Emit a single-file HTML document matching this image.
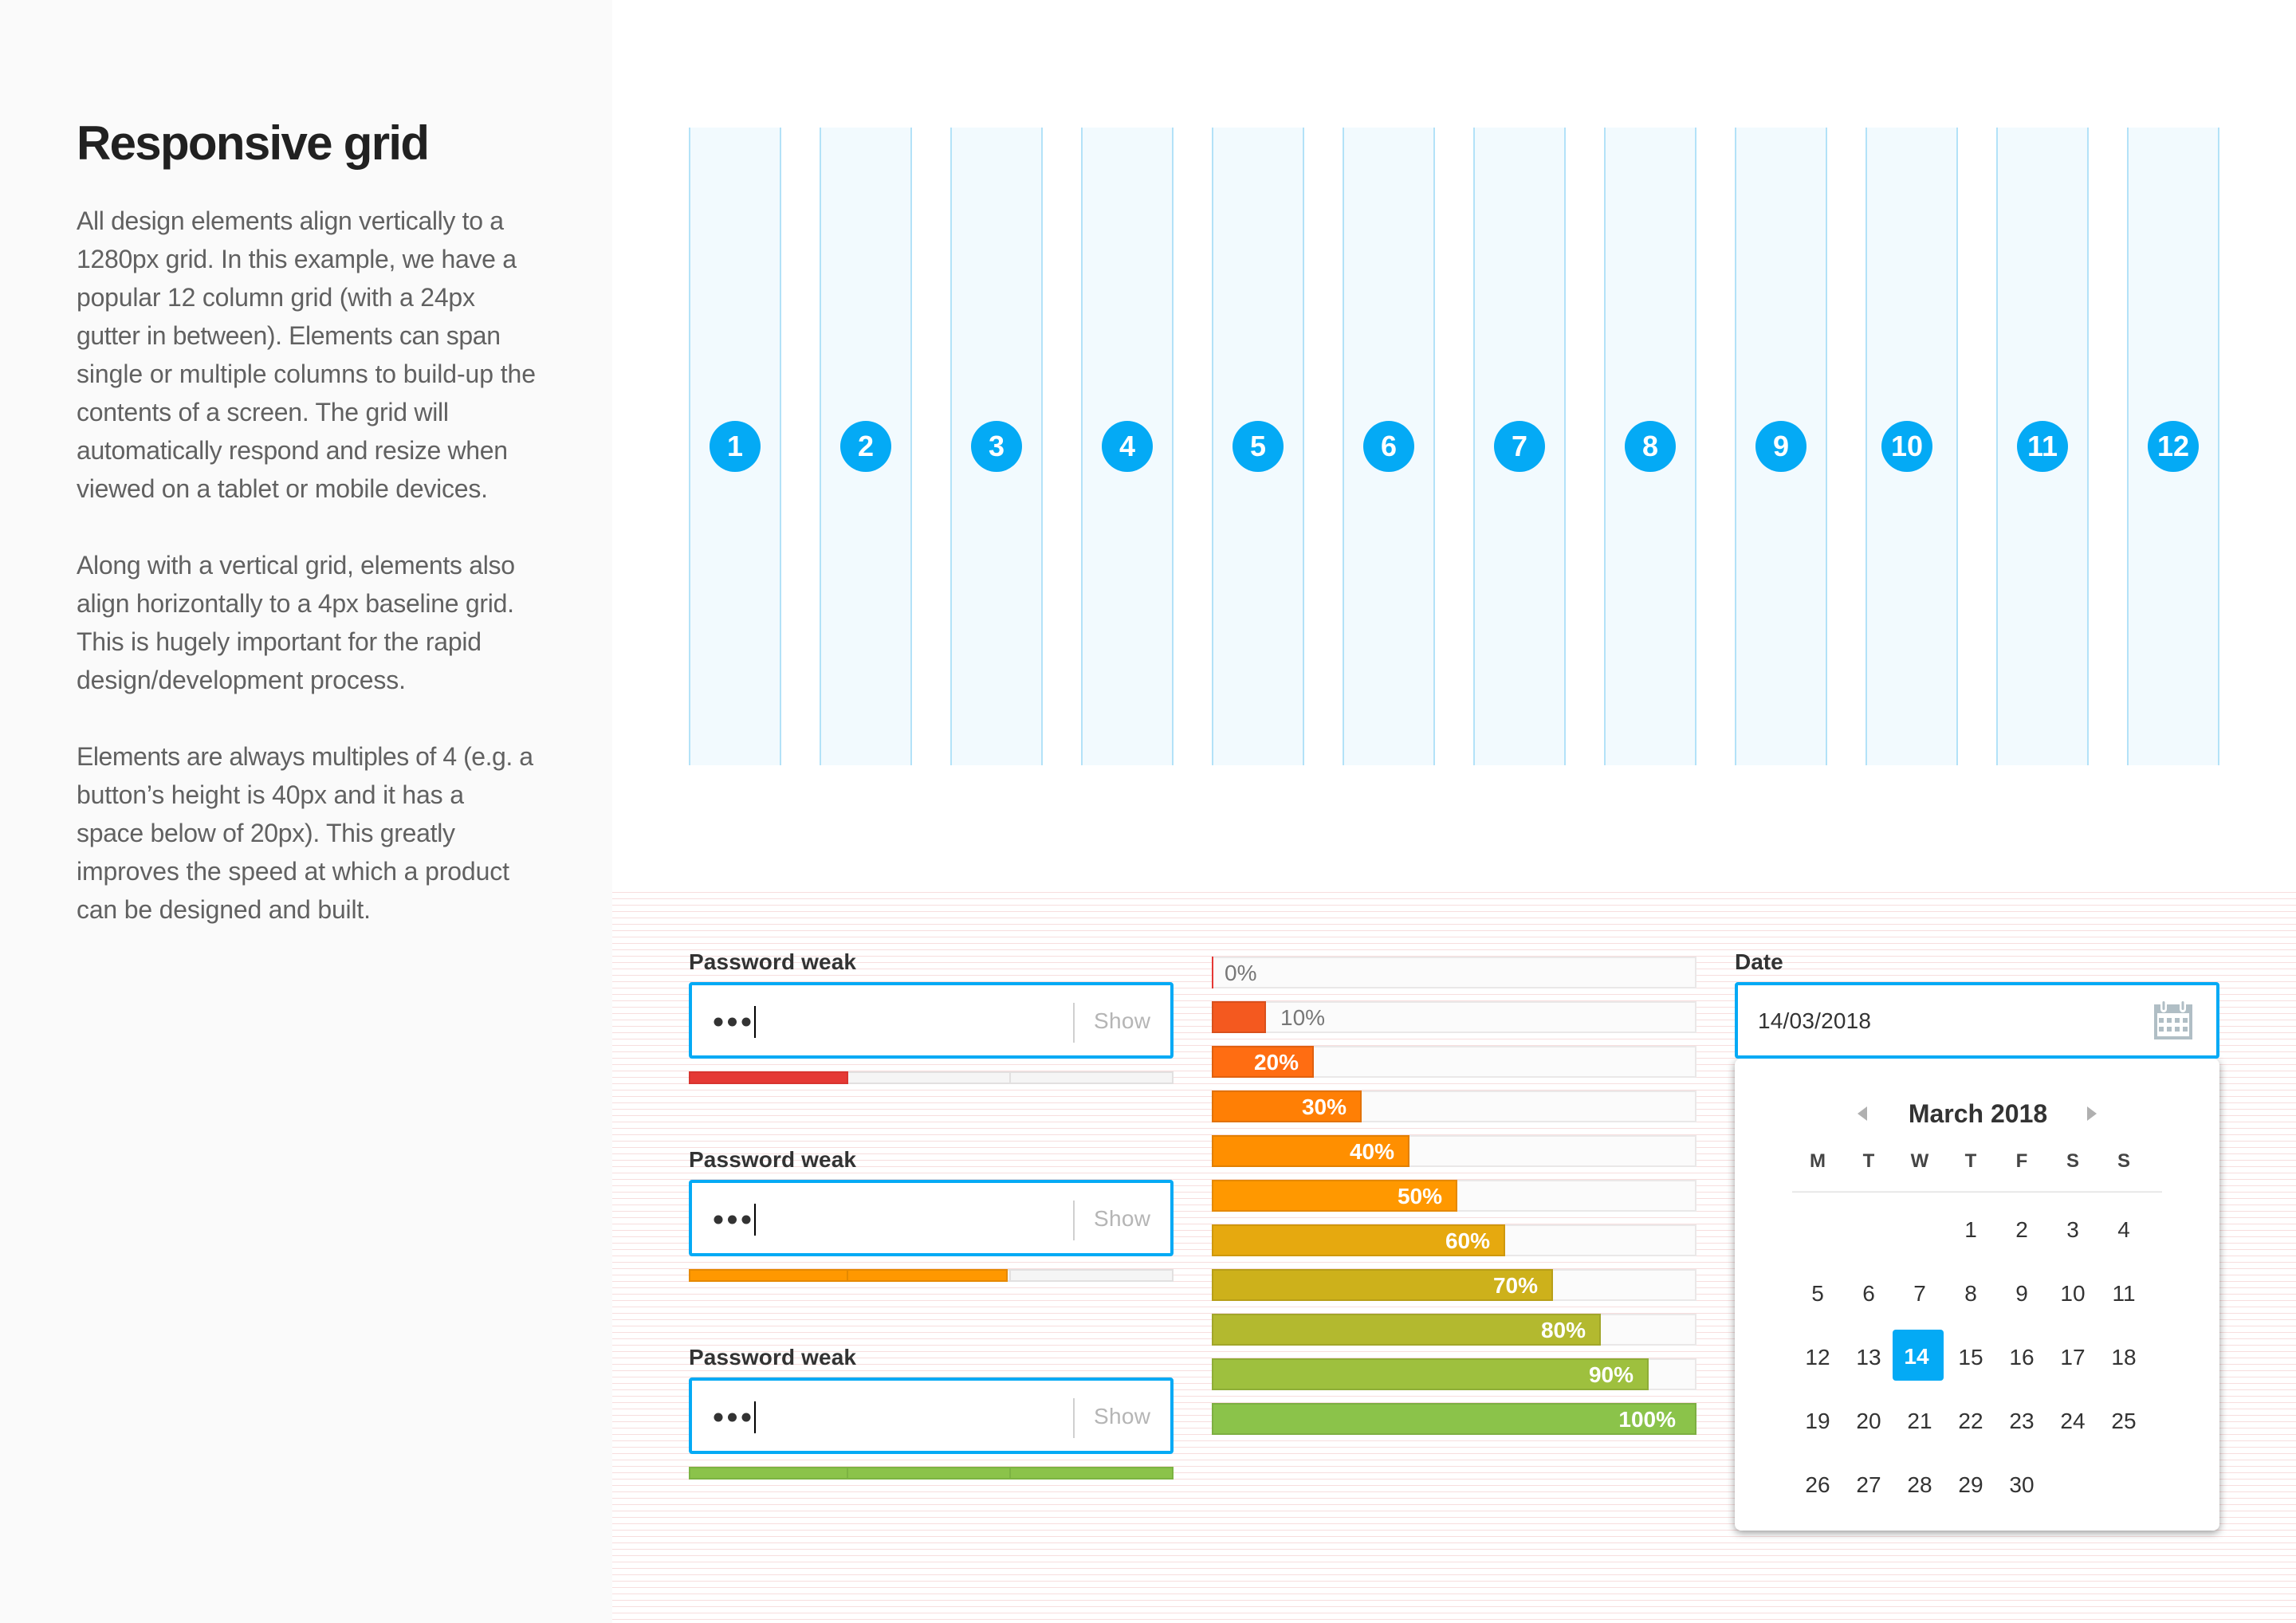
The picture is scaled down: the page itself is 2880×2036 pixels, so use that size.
<!DOCTYPE html>
<html lang="en">
<head>
<meta charset="utf-8">
<title>Responsive grid</title>
<style>
  html, body { margin: 0; padding: 0; background: #fff; width: 2880px; height: 2036px; overflow: hidden; }
  svg { display: block; }
  text { font-family: "Liberation Sans", Arial, sans-serif; }
  .h1 { font-size: 60px; font-weight: 700; fill: #212121; }
  .p { font-size: 32px; fill: #616161; }
  .num { font-size: 36px; font-weight: 700; fill: #fff; text-anchor: middle; }
  .lbl { font-size: 28px; font-weight: 700; fill: #333; }
  .show { font-size: 28px; fill: #b5b5b5; }
  .val { font-size: 28px; fill: #333; }
  .pct-in { font-size: 28px; font-weight: 700; fill: #fff; text-anchor: end; }
  .pct-out { font-size: 28px; fill: #777; }
  .month { font-size: 32px; font-weight: 700; fill: #333; text-anchor: middle; }
  .wd { font-size: 24px; font-weight: 700; fill: #444; text-anchor: middle; }
  .d { font-size: 28px; fill: #333; text-anchor: middle; }
  .d-sel { font-size: 28px; font-weight: 700; fill: #fff; text-anchor: middle; }
  .col-bg { fill: #f2fafe; }
  .col-line { fill: #b3e2f8; }
  .badge { fill: #04aaf5; }
  .inp { fill: #fff; stroke: #04aaf5; stroke-width: 4; }
  .cal { fill: #b0bec5; }
</style>
</head>
<body>
<svg xmlns="http://www.w3.org/2000/svg" width="2880" height="2036" viewBox="0 0 2880 2036">
  <defs>
    <pattern id="baseline" patternUnits="userSpaceOnUse" x="0" y="1119" width="16" height="8">
      <rect x="0" y="0" width="16" height="1" fill="#f7dede"/>
    </pattern>
  </defs>

  <rect x="0" y="0" width="768" height="2036" fill="#fafafa"/>
  <rect x="768" y="1119" width="2112" height="917" fill="url(#baseline)"/>

  <g>
    <text class="h1" x="96" y="200" textLength="443" lengthAdjust="spacing">Responsive grid</text>
    <text class="p" x="96" y="288" textLength="536" lengthAdjust="spacing">All design elements align vertically to a</text>
    <text class="p" x="96" y="336" textLength="552" lengthAdjust="spacing">1280px grid. In this example, we have a</text>
    <text class="p" x="96" y="384" textLength="500" lengthAdjust="spacing">popular 12 column grid (with a 24px</text>
    <text class="p" x="96" y="432" textLength="532" lengthAdjust="spacing">gutter in between). Elements can span</text>
    <text class="p" x="96" y="480" textLength="576" lengthAdjust="spacing">single or multiple columns to build-up the</text>
    <text class="p" x="96" y="528" textLength="467" lengthAdjust="spacing">contents of a screen. The grid will</text>
    <text class="p" x="96" y="576" textLength="541" lengthAdjust="spacing">automatically respond and resize when</text>
    <text class="p" x="96" y="624" textLength="516" lengthAdjust="spacing">viewed on a tablet or mobile devices.</text>
    <text class="p" x="96" y="720" textLength="550" lengthAdjust="spacing">Along with a vertical grid, elements also</text>
    <text class="p" x="96" y="768" textLength="549" lengthAdjust="spacing">align horizontally to a 4px baseline grid.</text>
    <text class="p" x="96" y="816" textLength="508" lengthAdjust="spacing">This is hugely important for the rapid</text>
    <text class="p" x="96" y="864" textLength="413" lengthAdjust="spacing">design/development process.</text>
    <text class="p" x="96" y="960" textLength="573" lengthAdjust="spacing">Elements are always multiples of 4 (e.g. a</text>
    <text class="p" x="96" y="1008" textLength="486" lengthAdjust="spacing">button’s height is 40px and it has a</text>
    <text class="p" x="96" y="1056" textLength="475" lengthAdjust="spacing">space below of 20px). This greatly</text>
    <text class="p" x="96" y="1104" textLength="543" lengthAdjust="spacing">improves the speed at which a product</text>
    <text class="p" x="96" y="1152" textLength="369" lengthAdjust="spacing">can be designed and built.</text>
  </g>

  <g>
    <g transform="translate(864,0)"><rect class="col-bg" y="160" width="116" height="800"/><rect class="col-line" y="160" width="2" height="800"/><rect class="col-line" x="114" y="160" width="2" height="800"/><circle class="badge" cx="58" cy="560" r="32"/><text class="num" x="58" y="572">1</text></g>
    <g transform="translate(1028,0)"><rect class="col-bg" y="160" width="116" height="800"/><rect class="col-line" y="160" width="2" height="800"/><rect class="col-line" x="114" y="160" width="2" height="800"/><circle class="badge" cx="58" cy="560" r="32"/><text class="num" x="58" y="572">2</text></g>
    <g transform="translate(1192,0)"><rect class="col-bg" y="160" width="116" height="800"/><rect class="col-line" y="160" width="2" height="800"/><rect class="col-line" x="114" y="160" width="2" height="800"/><circle class="badge" cx="58" cy="560" r="32"/><text class="num" x="58" y="572">3</text></g>
    <g transform="translate(1356,0)"><rect class="col-bg" y="160" width="116" height="800"/><rect class="col-line" y="160" width="2" height="800"/><rect class="col-line" x="114" y="160" width="2" height="800"/><circle class="badge" cx="58" cy="560" r="32"/><text class="num" x="58" y="572">4</text></g>
    <g transform="translate(1520,0)"><rect class="col-bg" y="160" width="116" height="800"/><rect class="col-line" y="160" width="2" height="800"/><rect class="col-line" x="114" y="160" width="2" height="800"/><circle class="badge" cx="58" cy="560" r="32"/><text class="num" x="58" y="572">5</text></g>
    <g transform="translate(1684,0)"><rect class="col-bg" y="160" width="116" height="800"/><rect class="col-line" y="160" width="2" height="800"/><rect class="col-line" x="114" y="160" width="2" height="800"/><circle class="badge" cx="58" cy="560" r="32"/><text class="num" x="58" y="572">6</text></g>
    <g transform="translate(1848,0)"><rect class="col-bg" y="160" width="116" height="800"/><rect class="col-line" y="160" width="2" height="800"/><rect class="col-line" x="114" y="160" width="2" height="800"/><circle class="badge" cx="58" cy="560" r="32"/><text class="num" x="58" y="572">7</text></g>
    <g transform="translate(2012,0)"><rect class="col-bg" y="160" width="116" height="800"/><rect class="col-line" y="160" width="2" height="800"/><rect class="col-line" x="114" y="160" width="2" height="800"/><circle class="badge" cx="58" cy="560" r="32"/><text class="num" x="58" y="572">8</text></g>
    <g transform="translate(2176,0)"><rect class="col-bg" y="160" width="116" height="800"/><rect class="col-line" y="160" width="2" height="800"/><rect class="col-line" x="114" y="160" width="2" height="800"/><circle class="badge" cx="58" cy="560" r="32"/><text class="num" x="58" y="572">9</text></g>
    <g transform="translate(2340,0)"><rect class="col-bg" y="160" width="116" height="800"/><rect class="col-line" y="160" width="2" height="800"/><rect class="col-line" x="114" y="160" width="2" height="800"/><circle class="badge" cx="52" cy="560" r="32"/><text class="num" x="52" y="572">10</text></g>
    <g transform="translate(2504,0)"><rect class="col-bg" y="160" width="116" height="800"/><rect class="col-line" y="160" width="2" height="800"/><rect class="col-line" x="114" y="160" width="2" height="800"/><circle class="badge" cx="58" cy="560" r="32"/><text class="num" x="58" y="572">11</text></g>
    <g transform="translate(2668,0)"><rect class="col-bg" y="160" width="116" height="800"/><rect class="col-line" y="160" width="2" height="800"/><rect class="col-line" x="114" y="160" width="2" height="800"/><circle class="badge" cx="58" cy="560" r="32"/><text class="num" x="58" y="572">12</text></g>
  </g>

  <g>
    <text class="lbl" x="864" y="1216" textLength="210" lengthAdjust="spacing">Password weak</text>
    <rect class="inp" x="866" y="1234" width="604" height="92" rx="2"/>
    <circle cx="901" cy="1282" r="5.5" fill="#333"/><circle cx="918.5" cy="1282" r="5.5" fill="#333"/><circle cx="936" cy="1282" r="5.5" fill="#333"/>
    <rect x="946" y="1262" width="2" height="40" fill="#000"/>
    <rect x="1346" y="1258" width="2" height="50" fill="#d0d0d0"/>
    <text class="show" x="1372" y="1290" textLength="71" lengthAdjust="spacing">Show</text>
  </g>
  <g>
    <text class="lbl" x="864" y="1464" textLength="210" lengthAdjust="spacing">Password weak</text>
    <rect class="inp" x="866" y="1482" width="604" height="92" rx="2"/>
    <circle cx="901" cy="1530" r="5.5" fill="#333"/><circle cx="918.5" cy="1530" r="5.5" fill="#333"/><circle cx="936" cy="1530" r="5.5" fill="#333"/>
    <rect x="946" y="1510" width="2" height="40" fill="#000"/>
    <rect x="1346" y="1506" width="2" height="50" fill="#d0d0d0"/>
    <text class="show" x="1372" y="1538" textLength="71" lengthAdjust="spacing">Show</text>
  </g>
  <g>
    <text class="lbl" x="864" y="1712" textLength="210" lengthAdjust="spacing">Password weak</text>
    <rect class="inp" x="866" y="1730" width="604" height="92" rx="2"/>
    <circle cx="901" cy="1778" r="5.5" fill="#333"/><circle cx="918.5" cy="1778" r="5.5" fill="#333"/><circle cx="936" cy="1778" r="5.5" fill="#333"/>
    <rect x="946" y="1758" width="2" height="40" fill="#000"/>
    <rect x="1346" y="1754" width="2" height="50" fill="#d0d0d0"/>
    <text class="show" x="1372" y="1786" textLength="71" lengthAdjust="spacing">Show</text>
  </g>

  <g id="meters"></g>
  <g id="progress"></g>

  <g>
    <text class="lbl" x="2176" y="1216">Date</text>
    <rect x="2176" y="1328" width="608" height="592" rx="8" fill="#fff" style="filter: drop-shadow(0 3px 5px rgba(0,0,0,.4));"/>
    <rect class="inp" x="2178" y="1234" width="604" height="92" rx="2"/>
    <text class="val" x="2205" y="1290" textLength="142" lengthAdjust="spacing">14/03/2018</text>
    <g>
      <rect class="cal" x="2702" y="1260" width="48" height="44"/>
      <rect x="2706" y="1271" width="40" height="29" fill="#fff"/>
      <rect x="2710" y="1255" width="8" height="15" rx="4" fill="#fff"/><rect class="cal" x="2712.5" y="1256" width="3" height="11" rx="1.5"/>
      <rect x="2734" y="1255" width="8" height="15" rx="4" fill="#fff"/><rect class="cal" x="2736.5" y="1256" width="3" height="11" rx="1.5"/>
      <rect class="cal" x="2708" y="1277" width="6" height="6"/><rect class="cal" x="2718" y="1277" width="6" height="6"/><rect class="cal" x="2728" y="1277" width="6" height="6"/><rect class="cal" x="2738" y="1277" width="6" height="6"/>
      <rect class="cal" x="2708" y="1288" width="6" height="6"/><rect class="cal" x="2718" y="1288" width="6" height="6"/><rect class="cal" x="2728" y="1288" width="6" height="6"/><rect class="cal" x="2738" y="1288" width="6" height="6"/>
    </g>
    <polygon points="2342,1388 2342,1406 2330,1397" fill="#b0b0b0"/>
    <polygon points="2618,1388 2618,1406 2630,1397" fill="#b0b0b0"/>
    <text class="month" x="2481" y="1408">March 2018</text>
    <g>
      <text class="wd" x="2280" y="1464">M</text><text class="wd" x="2344" y="1464">T</text><text class="wd" x="2408" y="1464">W</text><text class="wd" x="2472" y="1464">T</text><text class="wd" x="2536" y="1464">F</text><text class="wd" x="2600" y="1464">S</text><text class="wd" x="2664" y="1464">S</text>
    </g>
    <rect x="2248" y="1494.5" width="464" height="1.5" fill="#e2e2e2"/>
    <rect x="2374" y="1668" width="64" height="64" rx="4" fill="#04aaf5"/>
    <g>
      <text class="d" x="2472" y="1552">1</text><text class="d" x="2536" y="1552">2</text><text class="d" x="2600" y="1552">3</text><text class="d" x="2664" y="1552">4</text>
      <text class="d" x="2280" y="1632">5</text><text class="d" x="2344" y="1632">6</text><text class="d" x="2408" y="1632">7</text><text class="d" x="2472" y="1632">8</text><text class="d" x="2536" y="1632">9</text><text class="d" x="2600" y="1632">10</text><text class="d" x="2664" y="1632">11</text>
      <text class="d" x="2280" y="1712">12</text><text class="d" x="2344" y="1712">13</text><text class="d-sel" x="2404" y="1711">14</text><text class="d" x="2472" y="1712">15</text><text class="d" x="2536" y="1712">16</text><text class="d" x="2600" y="1712">17</text><text class="d" x="2664" y="1712">18</text>
      <text class="d" x="2280" y="1792">19</text><text class="d" x="2344" y="1792">20</text><text class="d" x="2408" y="1792">21</text><text class="d" x="2472" y="1792">22</text><text class="d" x="2536" y="1792">23</text><text class="d" x="2600" y="1792">24</text><text class="d" x="2664" y="1792">25</text>
      <text class="d" x="2280" y="1872">26</text><text class="d" x="2344" y="1872">27</text><text class="d" x="2408" y="1872">28</text><text class="d" x="2472" y="1872">29</text><text class="d" x="2536" y="1872">30</text>
    </g>
  </g>
</svg>

<script>
const progressValues = [0, 10, 20, 30, 40, 50, 60, 70, 80, 90, 100];
const progressLabels = ['0%', '10%', '20%', '30%', '40%', '50%', '60%', '70%', '80%', '90%', '100%'];
const strengthLevels = [1, 2, 3];

const NS = 'http://www.w3.org/2000/svg';
const fillPalette = ['#e53935', '#f4591f', '#ff6d12', '#ff7f05', '#ff8f00', '#ff9800', '#e6a90f', '#cdb11b', '#b3b92f', '#9ec03e', '#8bc34a'];
const edgePalette = ['#d32f2f', '#d9501c', '#e0600f', '#e27204', '#e27f00', '#e58900', '#cf980d', '#b89f18', '#a1a62a', '#8ead37', '#7daf42'];
const meterFill = ['#e53935', '#ff9800', '#8bc34a'];
const meterEdge = ['#d8342f', '#e58900', '#7cb342'];

function make(tag, attrs) {
  const el = document.createElementNS(NS, tag);
  Object.keys(attrs).forEach(function (k) { el.setAttribute(k, attrs[k]); });
  return el;
}

// Progress-bar axis functions
function barWidth(v) { return v <= 0 ? 2 : 8 + 6 * v; }
function barRowY(i) { return 1200 + 56 * i; }

const progressRoot = document.getElementById('progress');
progressValues.forEach(function (v, i) {
  const y = barRowY(i);
  const w = barWidth(v);
  const track = make('rect', { x: 1521, y: y + 1, width: 606, height: 38, fill: '#fbfbfb', stroke: '#eae8e8', 'stroke-width': 2 });
  
  
  progressRoot.appendChild(track);

  let bar;
  if (v <= 0) {
    bar = make('rect', { x: 1520, y: y, width: w, height: 40, fill: fillPalette[i] });
  } else {
    bar = make('rect', { x: 1521, y: y + 1, width: w - 2, height: 38, fill: fillPalette[i], stroke: edgePalette[i], 'stroke-width': 2 });
  }
  
  
  progressRoot.appendChild(bar);

  const inside = v >= 20;
  const pad = v >= 100 ? 26 : 19;
  const label = make('text', {
    x: inside ? 1520 + w - pad : (v <= 0 ? 1536 : 1520 + w + 18),
    y: y + 30,
    class: inside ? 'pct-in' : 'pct-out'
  });
  label.textContent = progressLabels[i];
  
  
  progressRoot.appendChild(label);
});

// Strength-meter axis functions
function meterWidth(level) { return level >= 3 ? 608 : 200 * level; }
function meterY(i) { return 1344 + 248 * i; }

const meterRoot = document.getElementById('meters');
strengthLevels.forEach(function (level, i) {
  const y = meterY(i);
  const track = make('rect', { x: 865, y: y + 1, width: 606, height: 14, fill: '#f5f5f5', stroke: '#e2e0e0', 'stroke-width': 2 });
  
  
  meterRoot.appendChild(track);

  [1062, 1266].forEach(function (dx) {
    const tick = make('rect', { x: dx, y: y, width: 2, height: 16, fill: '#e2e0e0' });
    
    
    meterRoot.appendChild(tick);
  });

  const w = meterWidth(level);
  const fill = make('rect', { x: 865, y: y + 1, width: w - 2, height: 14, fill: meterFill[i], stroke: meterEdge[i], 'stroke-width': 2 });
  
  
  meterRoot.appendChild(fill);

  [1062, 1266].forEach(function (dx) {
    if (dx < 864 + w - 4) {
      const seg = make('rect', { x: dx, y: y, width: 2, height: 16, fill: meterEdge[i] });
      
      
      meterRoot.appendChild(seg);
    }
  });
});
</script>
</body>
</html>
